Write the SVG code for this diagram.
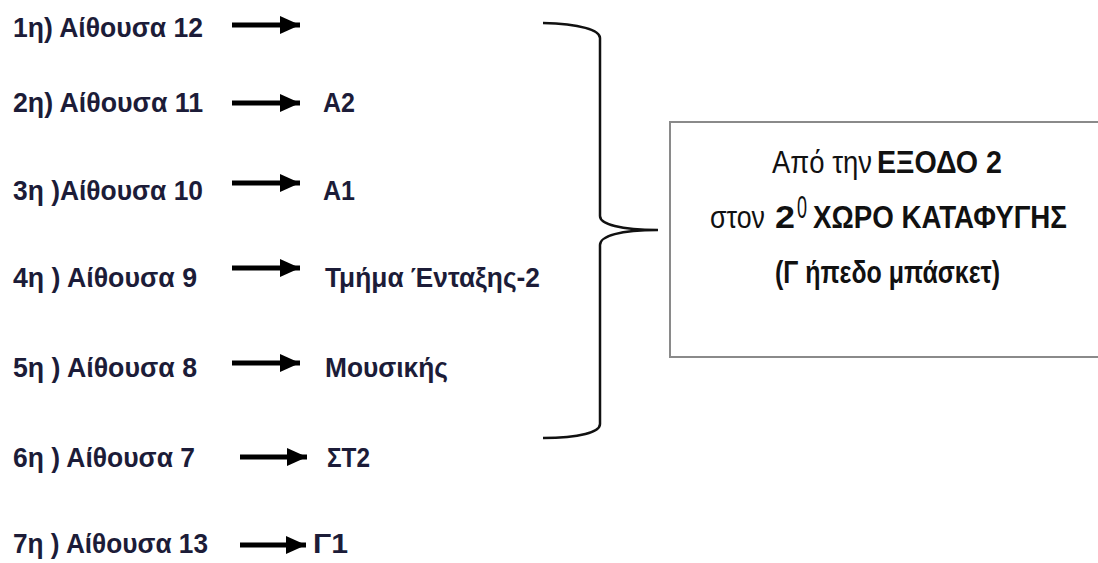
<svg xmlns="http://www.w3.org/2000/svg" width="1098" height="563" viewBox="0 0 1098 563">
<style>
.l{font-family:"Liberation Sans",Arial,sans-serif;font-weight:bold;font-size:28px;fill:#1c1c38}
.b{font-family:"Liberation Sans",Arial,sans-serif;font-size:31px;fill:#111}
.bb{font-weight:bold}
.ar{stroke:#000;stroke-width:5;fill:none}
</style>
<defs>
<marker id="ah" markerUnits="userSpaceOnUse" markerWidth="20" markerHeight="20" refX="20" refY="10" orient="auto" viewBox="0 0 20 20">
<path d="M0,1 L20,10 L0,19 Z" fill="#000"/>
</marker>
</defs>
<rect width="1098" height="563" fill="#fff"/>
<g id="row1"><text class="l" x="13" y="37" textLength="190" lengthAdjust="spacingAndGlyphs">1η) Αίθουσα 12</text></g>
<g id="row2"><text class="l" x="13" y="112" textLength="190" lengthAdjust="spacingAndGlyphs">2η) Αίθουσα 11</text><text class="l" x="323" y="112" textLength="32" lengthAdjust="spacingAndGlyphs">A2</text></g>
<g id="row3"><text class="l" x="13" y="200" textLength="190" lengthAdjust="spacingAndGlyphs">3η )Αίθουσα 10</text><text class="l" x="323" y="200" textLength="32" lengthAdjust="spacingAndGlyphs">A1</text></g>
<g id="row4"><text class="l" x="13" y="287" textLength="184" lengthAdjust="spacingAndGlyphs">4η ) Αίθουσα 9</text><text class="l" x="325" y="287" textLength="215" lengthAdjust="spacingAndGlyphs">Τμήμα Ένταξης-2</text></g>
<g id="row5"><text class="l" x="13" y="377" textLength="184" lengthAdjust="spacingAndGlyphs">5η ) Αίθουσα 8</text><text class="l" x="325" y="377" textLength="123" lengthAdjust="spacingAndGlyphs">Μουσικής</text></g>
<g id="row6"><text class="l" x="13" y="467" textLength="182" lengthAdjust="spacingAndGlyphs">6η ) Αίθουσα 7</text><text class="l" x="327" y="467" textLength="43" lengthAdjust="spacingAndGlyphs">ΣΤ2</text></g>
<g id="row7"><text class="l" x="13" y="553" textLength="195" lengthAdjust="spacingAndGlyphs">7η ) Αίθουσα 13</text><text class="l" x="313" y="553" textLength="35" lengthAdjust="spacingAndGlyphs">Γ1</text></g>
<g id="connectors">
<line class="ar" x1="232" y1="25" x2="300" y2="25" marker-end="url(#ah)"/>
<line class="ar" x1="232" y1="103" x2="300" y2="103" marker-end="url(#ah)"/>
<line class="ar" x1="232" y1="183" x2="300" y2="183" marker-end="url(#ah)"/>
<line class="ar" x1="232" y1="268" x2="300" y2="268" marker-end="url(#ah)"/>
<line class="ar" x1="232" y1="363" x2="300" y2="363" marker-end="url(#ah)"/>
<line class="ar" x1="240" y1="457" x2="307" y2="457" marker-end="url(#ah)"/>
<line class="ar" x1="240" y1="545" x2="306" y2="545" marker-end="url(#ah)"/>
<path d="M543,23 C580,24 600,30 600,38 L600,216 C600,224 620,230 658,230 C620,230 600,236 600,245 L600,424 C600,432 580,438 543,438" fill="none" stroke="#111" stroke-width="2.5"/>
</g>
<g id="box">
<rect x="670" y="122" width="440" height="235" fill="#fff" stroke="#8a8a8a" stroke-width="2"/>
<text class="b" x="772" y="173" textLength="100" lengthAdjust="spacingAndGlyphs">Από την</text>
<text class="b bb" x="877" y="173" textLength="125" lengthAdjust="spacingAndGlyphs">ΕΞΟΔΟ 2</text>
<text class="b" x="710" y="228" textLength="55" lengthAdjust="spacingAndGlyphs">στον</text>
<text class="b bb" x="775" y="228" textLength="20" lengthAdjust="spacingAndGlyphs">2</text>
<text class="b" x="797" y="218" font-size="18" textLength="10" lengthAdjust="spacingAndGlyphs">0</text>
<text class="b bb" x="813" y="228" textLength="254" lengthAdjust="spacingAndGlyphs">ΧΩΡΟ ΚΑΤΑΦΥΓΗΣ</text>
<text class="b bb" x="775" y="283" textLength="225" lengthAdjust="spacingAndGlyphs">(Γ ήπεδο μπάσκετ)</text>
</g>
</svg>
